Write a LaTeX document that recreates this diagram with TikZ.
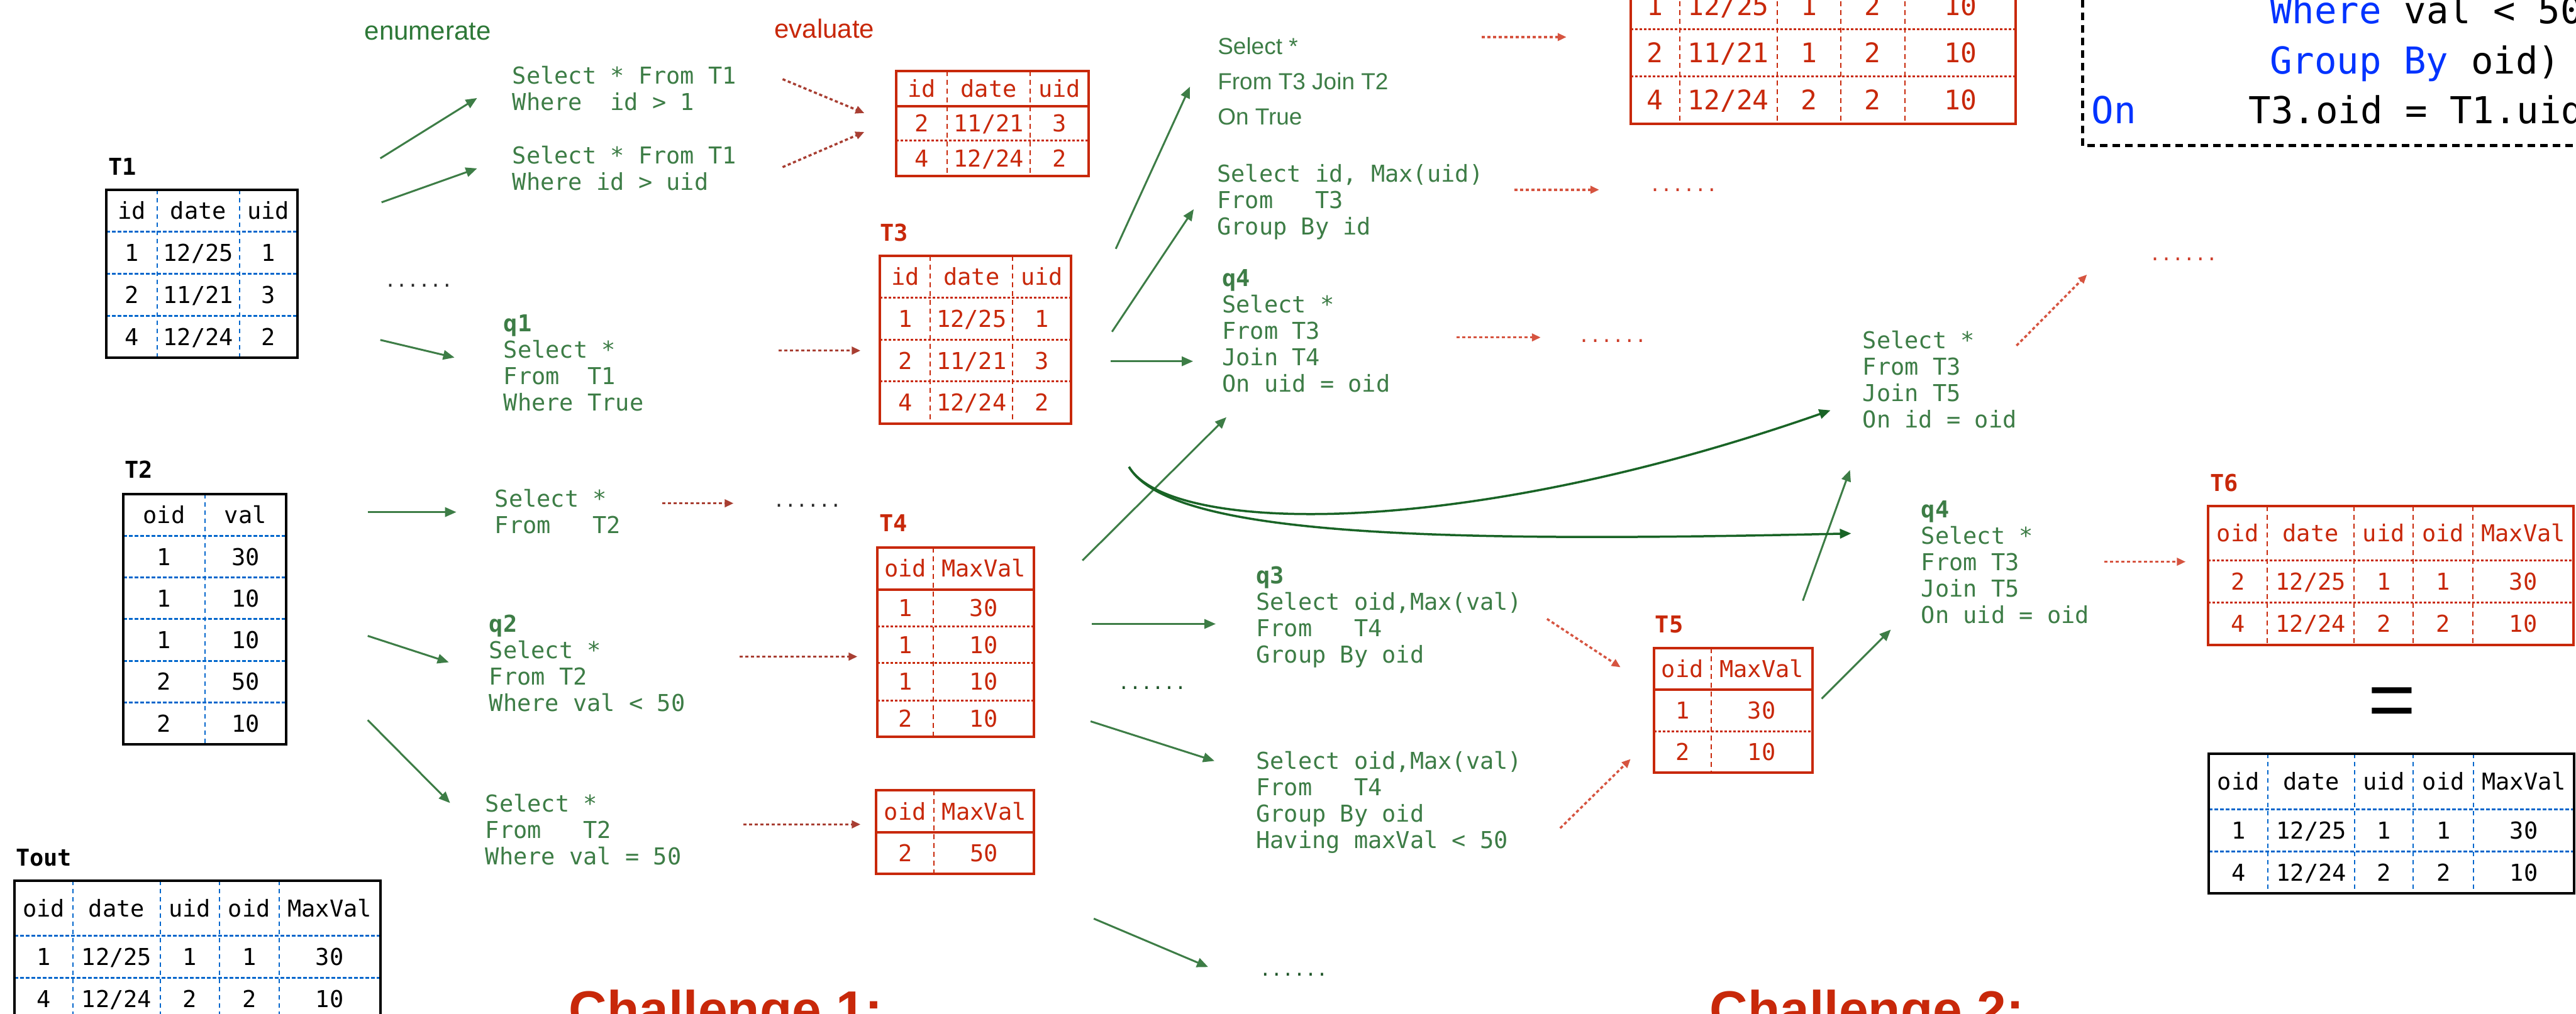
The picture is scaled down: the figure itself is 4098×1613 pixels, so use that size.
\documentclass[tikz,border=0pt]{standalone}
\usepackage{fontspec}
\setmonofont{DejaVu Sans Mono}
\newfontfamily\hvfont{Liberation Sans}
\usetikzlibrary{arrows.meta}
\definecolor{qgreen}{RGB}{61,125,70}
\definecolor{cgreen}{RGB}{25,100,38}
\definecolor{dgreen}{RGB}{30,85,40}
\definecolor{engreen}{RGB}{45,120,55}
\definecolor{tred}{RGB}{200,40,10}
\definecolor{ered}{RGB}{168,62,50}
\definecolor{eredb}{RGB}{214,84,64}
\definecolor{dotred}{RGB}{205,60,40}
\definecolor{gblue}{RGB}{0,102,204}
\definecolor{kblue}{RGB}{0,51,255}
\definecolor{dgray}{RGB}{40,40,40}
\newcommand\mf{\ttfamily\fontsize{37}{42}\selectfont}
\newcommand\mfb{\ttfamily\fontsize{43}{50}\selectfont}
\newcommand\cf{\ttfamily\fontsize{59}{80}\selectfont}
\newcommand\lns[2]{\vtop{\baselineskip=#1pt\lineskiplimit=-1000pt\relax #2}}
\newcommand\trow[4]{\foreach \cx/\ct [count=\ci] in {#4}{\node[#2] (#1\ci) at (\cx,#3) {\ct};}}
\tikzset{
 qtext/.style={text=qgreen,font=\mf,inner sep=0pt,anchor=base west},
 lbl/.style={font=\mf\bfseries,inner sep=0pt,anchor=base west},
 cellk/.style={font=\mf,inner sep=0pt,text height=27pt,text depth=0pt,anchor=center},
 cellr/.style={cellk,text=tred},
 cellrb/.style={font=\mfb,text=tred,inner sep=0pt,text height=31pt,text depth=0pt,anchor=center},
 kborder/.style={draw=black,line width=4pt},
 kh/.style={draw=gblue,line width=3pt,dash pattern=on 6pt off 3pt},
 kv/.style={draw=gblue,line width=2pt,dash pattern=on 7pt off 6pt},
 rborder/.style={draw=tred,line width=4pt},
 rh/.style={draw=tred,line width=3pt,dash pattern=on 4pt off 3pt},
 rv/.style={draw=tred,line width=2pt,dash pattern=on 8pt off 6pt},
 rsolid/.style={draw=tred,line width=4pt},
 garrow/.style={draw=qgreen,line width=3pt,-{Triangle[length=18pt,width=15pt]}},
 carrow/.style={draw=cgreen,line width=3.5pt,-{Triangle[length=18pt,width=15pt]}},
 earrow/.style={draw=ered,line width=3.5pt,dash pattern=on 5pt off 4pt,-{Triangle[length=14pt,width=12pt]}},
 earrowb/.style={earrow,draw=eredb},
 dotsn/.style={font=\ttfamily\fontsize{30}{30}\selectfont,inner sep=0pt,anchor=base},
 codebox/.style={draw=black,line width=5pt,dash pattern=on 12pt off 8pt},
 codetext/.style={font=\cf,inner sep=0pt,anchor=base west},
 bigtitle/.style={font=\hvfont\bfseries\fontsize{84}{84}\selectfont,text=tred,inner sep=0pt,anchor=base west},
 steptitle/.style={font=\hvfont\fontsize{42}{42}\selectfont,inner sep=0pt,anchor=base west},
}
\begin{document}
\begin{tikzpicture}[x=1pt,y=-1pt]
\useasboundingbox (0,0) rectangle (4098,1613);
\fill[white] (0,0) rectangle (4098,1613);
\clip (0,0) rectangle (4098,1613);

% ---------- step titles ----------
\node[steptitle,text=engreen] (enum) at (580,64) {enumerate};
\node[steptitle,text=tred] (eval) at (1232,61) {evaluate};

% ---------- T1 ----------
\node[lbl] (t1lbl) at (172,279) {T1};
\foreach \y in {369,436,503}{\draw[kh] (169,\y)--(473,\y);}
\foreach \x in {250,381}{\draw[kv] (\x,302)--(\x,569);}
\draw[kborder] (169,302) rectangle (473,569);
\trow{t1h}{cellk}{335.5}{209.5/id,315.5/date,427/uid}
\trow{t1a}{cellk}{402.5}{209.5/1,315.5/{12/25},427/1}
\trow{t1b}{cellk}{469.5}{209.5/2,315.5/{11/21},427/3}
\trow{t1c}{cellk}{536}{209.5/4,315.5/{12/24},427/2}

% ---------- T2 ----------
\node[lbl] (t2lbl) at (198,761) {T2};
\foreach \y in {853,919,985,1052,1118}{\draw[kh] (196,\y)--(455,\y);}
\draw[kv] (326,786)--(326,1185);
\draw[kborder] (196,786) rectangle (455,1185);
\trow{t2h}{cellk}{819.5}{261/oid,390.5/val}
\trow{t2a}{cellk}{886}{261/1,390.5/30}
\trow{t2b}{cellk}{952}{261/1,390.5/10}
\trow{t2c}{cellk}{1018.5}{261/1,390.5/10}
\trow{t2d}{cellk}{1085}{261/2,390.5/50}
\trow{t2e}{cellk}{1151.5}{261/2,390.5/10}

% ---------- Tout ----------
\node[lbl] (toutlbl) at (25,1378) {Tout};
\foreach \y in {1489,1556}{\draw[kh] (23,\y)--(605,\y);}
\foreach \x in {116,255,349,444}{\draw[kv] (\x,1402)--(\x,1623);}
\draw[kborder] (23,1402) rectangle (605,1623);
\trow{toh}{cellk}{1445.5}{69.5/oid,185.5/date,302/uid,396.5/oid,524.5/MaxVal}
\trow{toa}{cellk}{1522.5}{69.5/1,185.5/{12/25},302/1,396.5/1,524.5/30}
\trow{tob}{cellk}{1589.5}{69.5/4,185.5/{12/24},302/2,396.5/2,524.5/10}

% ---------- R1 ----------
\draw[rh] (1426,224)--(1732,224);
\foreach \x in {1507,1639}{\draw[rv] (\x,113)--(\x,280);}
\draw[rsolid] (1426,169)--(1732,169);
\draw[rborder] (1426,113) rectangle (1732,280);
\trow{r1h}{cellr}{141}{1466.5/id,1573/date,1685.5/uid}
\trow{r1a}{cellr}{196.5}{1466.5/2,1573/{11/21},1685.5/3}
\trow{r1b}{cellr}{252}{1466.5/4,1573/{12/24},1685.5/2}

% ---------- T3 ----------
\node[lbl,text=tred] (t3lbl) at (1400,384) {T3};
\foreach \y in {474,541,607}{\draw[rh] (1400,\y)--(1704,\y);}
\foreach \x in {1480,1611}{\draw[rv] (\x,407)--(\x,674);}
\draw[rborder] (1400,407) rectangle (1704,674);
\trow{t3h}{cellr}{440.5}{1440/id,1545.5/date,1657.5/uid}
\trow{t3a}{cellr}{507.5}{1440/1,1545.5/{12/25},1657.5/1}
\trow{t3b}{cellr}{574}{1440/2,1545.5/{11/21},1657.5/3}
\trow{t3c}{cellr}{640.5}{1440/4,1545.5/{12/24},1657.5/2}

% ---------- T4 ----------
\node[lbl,text=tred] (t4lbl) at (1399,846) {T4};
\foreach \y in {997,1055,1115}{\draw[rh] (1396,\y)--(1645,\y);}
\draw[rv] (1485,871)--(1485,1173);
\draw[rsolid] (1396,938)--(1645,938);
\draw[rborder] (1396,871) rectangle (1645,1173);
\trow{t4h}{cellr}{904.5}{1440.5/oid,1565/MaxVal}
\trow{t4a}{cellr}{967.5}{1440.5/1,1565/30}
\trow{t4b}{cellr}{1026}{1440.5/1,1565/10}
\trow{t4c}{cellr}{1085}{1440.5/1,1565/10}
\trow{t4d}{cellr}{1144}{1440.5/2,1565/10}

% ---------- R2 ----------
\draw[rv] (1486,1258)--(1486,1391);
\draw[rsolid] (1394,1325)--(1645,1325);
\draw[rborder] (1394,1258) rectangle (1645,1391);
\trow{r2h}{cellr}{1291.5}{1440/oid,1565.5/MaxVal}
\trow{r2a}{cellr}{1358}{1440/2,1565.5/50}

% ---------- T5 ----------
\node[lbl,text=tred] (t5lbl) at (2633,1007) {T5};
\draw[rh] (2631,1164)--(2883,1164);
\draw[rv] (2722,1031)--(2722,1230);
\draw[rsolid] (2631,1098)--(2883,1098);
\draw[rborder] (2631,1031) rectangle (2883,1230);
\trow{t5h}{cellr}{1064.5}{2676.5/oid,2802.5/MaxVal}
\trow{t5a}{cellr}{1131}{2676.5/1,2802.5/30}
\trow{t5b}{cellr}{1197}{2676.5/2,2802.5/10}

% ---------- T6 ----------
\node[lbl,text=tred] (t6lbl) at (3516,782) {T6};
\foreach \y in {892,959}{\draw[rh] (3513,\y)--(4094,\y);}
\foreach \x in {3607,3745,3839,3934}{\draw[rv] (\x,805)--(\x,1026);}
\draw[rborder] (3513,805) rectangle (4094,1026);
\trow{t6h}{cellr}{848.5}{3560/oid,3676/date,3792/uid,3886.5/oid,4014/MaxVal}
\trow{t6a}{cellr}{925.5}{3560/2,3676/{12/25},3792/1,3886.5/1,4014/30}
\trow{t6b}{cellr}{992.5}{3560/4,3676/{12/24},3792/2,3886.5/2,4014/10}

% ---------- equals + result table ----------
\node[font=\hvfont\fontsize{130}{130}\selectfont,inner sep=0pt,anchor=base] (eq) at (3805,1158) {=};
\foreach \y in {1288,1355}{\draw[kh] (3514,\y)--(4095,\y);}
\foreach \x in {3608,3746,3839,3935}{\draw[kv] (\x,1200)--(\x,1422);}
\draw[kborder] (3514,1200) rectangle (4095,1422);
\trow{brh}{cellk}{1244}{3561/oid,3677/date,3792.5/uid,3887/oid,4015/MaxVal}
\trow{bra}{cellk}{1321.5}{3561/1,3677/{12/25},3792.5/1,3887/1,4015/30}
\trow{brb}{cellk}{1388.5}{3561/4,3677/{12/24},3792.5/2,3887/2,4015/10}

% ---------- top-right join table ----------
\foreach \y in {-28,47,122}{\draw[rh] (2594,\y)--(3207,\y);}
\foreach \x in {2672,2827,2928,3030}{\draw[rv] (\x,-40)--(\x,197);}
\draw[rborder] (2594,-40)--(2594,197)--(3207,197)--(3207,-40);
\trow{tja}{cellrb}{9.5}{2633/1,2749.5/{12/25},2877.5/1,2979/2,3118.5/10}
\trow{tjb}{cellrb}{84.5}{2633/2,2749.5/{11/21},2877.5/1,2979/2,3118.5/10}
\trow{tjc}{cellrb}{159.5}{2633/4,2749.5/{12/24},2877.5/2,2979/2,3118.5/10}

% ---------- code box ----------
\draw[codebox] (3313,-20)--(3313,232)--(4130,232);
\node[codetext] (cw) at (3611,38) {\textcolor{kblue}{Where} val < 50};
\node[codetext] (cg) at (3611,118) {\textcolor{kblue}{Group By} oid)};
\node[codetext,text=kblue] (con) at (3327,197) {On};
\node[codetext] (cexp) at (3577,197) {T3.oid = T1.uid};

% ---------- queries ----------
\node[qtext] (qa) at (815,134) {\lns{42}{\hbox{Select * From T1}\hbox{Where~~id > 1}}};
\node[qtext] (qb) at (815,261) {\lns{42}{\hbox{Select * From T1}\hbox{Where id > uid}}};
\node[qtext] (qc) at (801,528) {\lns{42}{\hbox{\bfseries q1}\hbox{Select *}\hbox{From~~T1}\hbox{Where True}}};
\node[qtext] (qd) at (787,807) {\lns{42}{\hbox{Select *}\hbox{From~~~T2}}};
\node[qtext] (qe) at (778,1006) {\lns{42}{\hbox{\bfseries q2}\hbox{Select *}\hbox{From T2}\hbox{Where val < 50}}};
\node[qtext] (qf) at (772,1292) {\lns{42}{\hbox{Select *}\hbox{From~~~T2}\hbox{Where val = 50}}};
\node[qtext,font=\hvfont\fontsize{37}{56}\selectfont] (qg) at (1937,87) {\lns{56}{\hbox{Select *}\hbox{From T3 Join T2}\hbox{On True}}};
\node[qtext] (qh) at (1936,290) {\lns{42}{\hbox{Select id, Max(uid)}\hbox{From~~~T3}\hbox{Group By id}}};
\node[qtext] (qi) at (1944,456) {\lns{42}{\hbox{\bfseries q4}\hbox{Select *}\hbox{From T3}\hbox{Join T4}\hbox{On uid = oid}}};
\node[qtext] (qj) at (1998,929) {\lns{42}{\hbox{\bfseries q3}\hbox{Select oid,Max(val)}\hbox{From~~~T4}\hbox{Group By oid}}};
\node[qtext] (qk) at (1998,1224) {\lns{42}{\hbox{Select oid,Max(val)}\hbox{From~~~T4}\hbox{Group By oid}\hbox{Having maxVal < 50}}};
\node[qtext] (ql) at (2963,555) {\lns{42}{\hbox{Select *}\hbox{From T3}\hbox{Join T5}\hbox{On id = oid}}};
\node[qtext] (qm) at (3056,824) {\lns{42}{\hbox{\bfseries q4}\hbox{Select *}\hbox{From T3}\hbox{Join T5}\hbox{On uid = oid}}};

% ---------- ellipses ----------
\node[dotsn,text=dgray] (d1) at (666,457) {......};
\node[dotsn,text=dgray] (d2) at (1284.5,807) {......};
\node[dotsn,text=dgreen] (d3) at (1833,1097) {......};
\node[dotsn,text=dgreen] (d4) at (2058,1553) {......};
\node[dotsn,text=dotred] (d5) at (2678,305) {......};
\node[dotsn,text=dotred] (d6) at (2565,545) {......};
\node[dotsn,text=dotred] (d7) at (3473.5,415) {......};

% ---------- challenge titles ----------
\node[bigtitle] (ch1) at (905,1636) {Challenge 1:};
\node[bigtitle] (ch2) at (2720,1636) {Challenge 2:};

% ---------- green enumerate arrows ----------
\coordinate (a1s) at (605,252);  \coordinate (a1e) at (759,156);
\coordinate (a2s) at (607,322);  \coordinate (a2e) at (759,268);
\coordinate (a3s) at (605,541);  \coordinate (a3e) at (723,569);
\coordinate (a4s) at (585,815);  \coordinate (a4e) at (726,815);
\coordinate (a5s) at (585,1012); \coordinate (a5e) at (714,1054);
\coordinate (a6s) at (585,1146); \coordinate (a6e) at (716,1278);
\coordinate (a7s) at (1775,396); \coordinate (a7e) at (1893,138);
\coordinate (a8s) at (1769,528); \coordinate (a8e) at (1899,333);
\coordinate (a9s) at (1767,575); \coordinate (a9e) at (1898,575);
\coordinate (a10s) at (1722,892); \coordinate (a10e) at (1951,664);
\coordinate (a11s) at (1737,993); \coordinate (a11e) at (1934,993);
\coordinate (a12s) at (1735,1148); \coordinate (a12e) at (1932,1211);
\coordinate (a13s) at (1740,1462); \coordinate (a13e) at (1922,1539);
\coordinate (a14s) at (2868,956); \coordinate (a14e) at (2943,748);
\coordinate (a15s) at (2898,1112); \coordinate (a15e) at (3008,1002);
\foreach \i in {1,...,15}{\draw[garrow] (a\i s)--(a\i e);}

% ---------- curved arrows ----------
\coordinate (cs) at (1796,743);
\coordinate (c1e) at (2912,653);
\coordinate (c2e) at (2945,849);
\draw[carrow] (cs) .. controls (1860,850) and (2320,860) .. (c1e);
\draw[carrow] (cs) .. controls (1860,850) and (2250,865) .. (c2e);

% ---------- red evaluate arrows ----------
\coordinate (e1s) at (1245,126);  \coordinate (e1e) at (1375,180);
\coordinate (e2s) at (1245,266);  \coordinate (e2e) at (1375,210);
\coordinate (e3s) at (1239,558);  \coordinate (e3e) at (1369,558);
\coordinate (e4s) at (1054,801);  \coordinate (e4e) at (1167,801);
\coordinate (e5s) at (1177,1045); \coordinate (e5e) at (1364,1045);
\coordinate (e6s) at (1183,1312); \coordinate (e6e) at (1369,1312);
\foreach \i in {1,...,6}{\draw[earrow] (e\i s)--(e\i e);}
\coordinate (e7s) at (2357,59);   \coordinate (e7e) at (2492,59);
\coordinate (e8s) at (2409,302);  \coordinate (e8e) at (2544,302);
\coordinate (e9s) at (2317,537);  \coordinate (e9e) at (2451,537);
\coordinate (e10s) at (2461,985); \coordinate (e10e) at (2578,1062);
\coordinate (e11s) at (2482,1318); \coordinate (e11e) at (2594,1208);
\coordinate (e12s) at (3208,550); \coordinate (e12e) at (3320,437);
\coordinate (e13s) at (3348,894); \coordinate (e13e) at (3477,894);
\foreach \i in {7,...,13}{\draw[earrowb] (e\i s)--(e\i e);}
\end{tikzpicture}
\end{document}
